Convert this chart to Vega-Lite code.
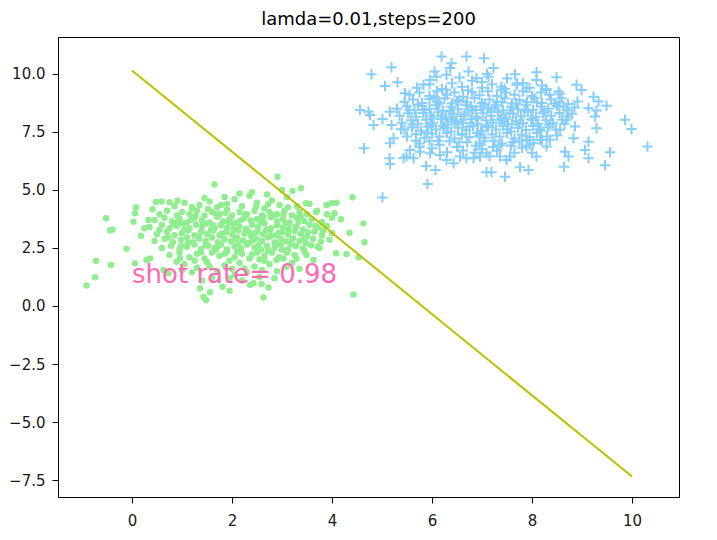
{
"$schema": "https://vega.github.io/schema/vega-lite/v6.json",
"width": 621, "height": 460,
"autosize": "none",
"padding": {"left": 58, "top": 37, "right": 38, "bottom": 43},
"title": {"text": "lamda=0.01,steps=200", "fontSize": 18, "fontWeight": "normal", "font": "DejaVu Sans", "color": "#000", "offset": 8},
"config": {
  "view": {"stroke": "#000", "strokeWidth": 1},
  "axis": {"domainColor": "#000", "tickColor": "#000", "labelColor": "#1a1a1a", "labelFont": "DejaVu Sans", "labelFontSize": 15, "tickSize": 6, "grid": false, "title": null},
  "axisX": {"labelPadding": 10},
  "axisY": {"labelPadding": 7}
},
"datasets": {
"green": [
{"x":0.85,"y":4.3},{"x":1.05,"y":4.45},{"x":1.2,"y":4.2},{"x":1.35,"y":4.35},{"x":1.55,"y":4.5},{"x":1.7,"y":4.25},{"x":1.9,"y":4.4},{"x":2.05,"y":4.6},{"x":2.2,"y":4.3},{"x":2.35,"y":4.75},{"x":2.5,"y":4.45},{"x":2.65,"y":4.2},{"x":2.8,"y":4.55},{"x":2.95,"y":4.35},{"x":3.1,"y":4.7},{"x":3.3,"y":4.3},{"x":3.55,"y":4.4},{"x":2.4,"y":4.9},{"x":2.15,"y":4.85},{"x":1.85,"y":4.7},{"x":2.7,"y":4.8},{"x":3.0,"y":5.0},{"x":1.45,"y":4.65},
{"x":0.55,"y":3.95},{"x":0.7,"y":4.1},{"x":0.9,"y":3.9},{"x":1.0,"y":4.05},{"x":1.15,"y":3.95},{"x":1.3,"y":4.1},{"x":1.45,"y":3.9},{"x":1.6,"y":4.05},{"x":1.75,"y":3.95},{"x":1.9,"y":4.15},{"x":2.0,"y":3.9},{"x":2.15,"y":4.05},{"x":2.3,"y":3.95},{"x":2.45,"y":4.1},{"x":2.6,"y":3.9},{"x":2.75,"y":4.05},{"x":2.9,"y":3.95},{"x":3.05,"y":4.1},{"x":3.2,"y":3.9},{"x":3.35,"y":4.05},{"x":3.5,"y":3.95},{"x":3.7,"y":4.1},{"x":3.9,"y":3.95},{"x":4.05,"y":4.0},
{"x":0.45,"y":3.7},{"x":0.65,"y":3.8},{"x":0.8,"y":3.65},{"x":0.95,"y":3.75},{"x":1.1,"y":3.6},{"x":1.25,"y":3.8},{"x":1.4,"y":3.7},{"x":1.55,"y":3.6},{"x":1.7,"y":3.85},{"x":1.82,"y":3.65},{"x":1.95,"y":3.75},{"x":2.1,"y":3.6},{"x":2.25,"y":3.8},{"x":2.38,"y":3.68},{"x":2.5,"y":3.75},{"x":2.62,"y":3.6},{"x":2.78,"y":3.82},{"x":2.9,"y":3.65},{"x":3.02,"y":3.75},{"x":3.15,"y":3.6},{"x":3.3,"y":3.8},{"x":3.45,"y":3.65},{"x":3.6,"y":3.75},{"x":3.8,"y":3.62},{"x":4.0,"y":3.8},
{"x":0.35,"y":3.4},{"x":0.6,"y":3.5},{"x":0.75,"y":3.35},{"x":0.9,"y":3.45},{"x":1.02,"y":3.55},{"x":1.15,"y":3.35},{"x":1.28,"y":3.5},{"x":1.4,"y":3.4},{"x":1.52,"y":3.55},{"x":1.65,"y":3.35},{"x":1.78,"y":3.48},{"x":1.9,"y":3.38},{"x":2.02,"y":3.55},{"x":2.15,"y":3.42},{"x":2.28,"y":3.32},{"x":2.4,"y":3.5},{"x":2.52,"y":3.4},{"x":2.65,"y":3.55},{"x":2.78,"y":3.35},{"x":2.9,"y":3.48},{"x":3.02,"y":3.38},{"x":3.15,"y":3.52},{"x":3.28,"y":3.4},{"x":3.42,"y":3.3},{"x":3.55,"y":3.5},{"x":3.72,"y":3.38},{"x":3.9,"y":3.45},
{"x":0.5,"y":3.1},{"x":0.7,"y":3.2},{"x":0.85,"y":3.05},{"x":1.0,"y":3.15},{"x":1.12,"y":3.25},{"x":1.25,"y":3.05},{"x":1.38,"y":3.2},{"x":1.5,"y":3.1},{"x":1.62,"y":3.25},{"x":1.75,"y":3.05},{"x":1.88,"y":3.18},{"x":2.0,"y":3.08},{"x":2.12,"y":3.25},{"x":2.25,"y":3.12},{"x":2.38,"y":3.02},{"x":2.5,"y":3.2},{"x":2.62,"y":3.1},{"x":2.75,"y":3.25},{"x":2.88,"y":3.05},{"x":3.0,"y":3.18},{"x":3.12,"y":3.08},{"x":3.25,"y":3.22},{"x":3.38,"y":3.1},{"x":3.5,"y":3.0},{"x":3.65,"y":3.2},{"x":3.8,"y":3.05},{"x":4.0,"y":3.15},
{"x":0.45,"y":2.8},{"x":0.65,"y":2.9},{"x":0.82,"y":2.75},{"x":0.98,"y":2.85},{"x":1.1,"y":2.95},{"x":1.22,"y":2.75},{"x":1.35,"y":2.9},{"x":1.48,"y":2.8},{"x":1.6,"y":2.95},{"x":1.72,"y":2.75},{"x":1.85,"y":2.88},{"x":1.98,"y":2.78},{"x":2.1,"y":2.95},{"x":2.22,"y":2.82},{"x":2.35,"y":2.72},{"x":2.48,"y":2.9},{"x":2.6,"y":2.8},{"x":2.72,"y":2.95},{"x":2.85,"y":2.75},{"x":2.98,"y":2.88},{"x":3.1,"y":2.78},{"x":3.22,"y":2.92},{"x":3.35,"y":2.8},{"x":3.48,"y":2.7},{"x":3.62,"y":2.9},{"x":3.78,"y":2.78},{"x":3.95,"y":2.85},
{"x":0.6,"y":2.5},{"x":0.78,"y":2.6},{"x":0.95,"y":2.45},{"x":1.1,"y":2.55},{"x":1.25,"y":2.65},{"x":1.38,"y":2.45},{"x":1.52,"y":2.6},{"x":1.65,"y":2.5},{"x":1.78,"y":2.65},{"x":1.9,"y":2.45},{"x":2.05,"y":2.58},{"x":2.18,"y":2.48},{"x":2.3,"y":2.65},{"x":2.45,"y":2.52},{"x":2.58,"y":2.42},{"x":2.7,"y":2.6},{"x":2.85,"y":2.5},{"x":2.98,"y":2.65},{"x":3.12,"y":2.45},{"x":3.28,"y":2.58},{"x":3.42,"y":2.48},{"x":3.58,"y":2.62},{"x":3.75,"y":2.5},
{"x":0.75,"y":2.2},{"x":0.95,"y":2.3},{"x":1.15,"y":2.1},{"x":1.3,"y":2.25},{"x":1.45,"y":2.05},{"x":1.6,"y":2.3},{"x":1.75,"y":2.15},{"x":1.9,"y":2.35},{"x":2.05,"y":2.1},{"x":2.2,"y":2.25},{"x":2.35,"y":2.05},{"x":2.5,"y":2.3},{"x":2.65,"y":2.15},{"x":2.8,"y":2.3},{"x":2.95,"y":2.1},{"x":3.1,"y":2.3},{"x":3.25,"y":2.2},
{"x":1.05,"y":1.8},{"x":1.3,"y":1.65},{"x":1.5,"y":1.9},{"x":1.7,"y":1.5},{"x":1.85,"y":1.75},{"x":2.0,"y":1.6},{"x":2.15,"y":1.85},{"x":2.3,"y":1.45},{"x":2.45,"y":1.7},{"x":2.6,"y":1.55},{"x":2.75,"y":1.8},{"x":2.9,"y":1.5},{"x":1.2,"y":1.45},{"x":2.55,"y":1.25},{"x":1.95,"y":1.2},{"x":2.2,"y":1.1},{"x":1.6,"y":1.2},{"x":2.85,"y":1.2},{"x":3.35,"y":1.6},{"x":1.4,"y":1.1},
{"x":1.05,"y":3.3},{"x":1.18,"y":3.72},{"x":1.33,"y":2.98},{"x":1.42,"y":3.58},{"x":1.58,"y":3.28},{"x":1.68,"y":3.95},{"x":1.8,"y":3.12},{"x":1.93,"y":3.62},{"x":2.07,"y":2.92},{"x":2.18,"y":3.7},{"x":2.32,"y":3.22},{"x":2.43,"y":2.85},{"x":2.57,"y":3.62},{"x":2.68,"y":3.28},{"x":2.82,"y":3.92},{"x":2.93,"y":3.15},{"x":3.07,"y":3.58},{"x":3.18,"y":2.68},{"x":3.33,"y":3.62},{"x":3.45,"y":2.9},{"x":1.12,"y":2.72},{"x":1.27,"y":3.88},{"x":1.47,"y":2.62},{"x":1.63,"y":3.48},{"x":1.72,"y":2.58},{"x":1.87,"y":4.02},{"x":2.03,"y":3.32},{"x":2.13,"y":2.68},{"x":2.27,"y":3.95},{"x":2.42,"y":3.12},{"x":2.53,"y":2.62},{"x":2.63,"y":3.85},{"x":2.77,"y":3.02},{"x":2.87,"y":2.62},{"x":3.03,"y":3.95},{"x":3.13,"y":3.3},{"x":3.27,"y":2.58},{"x":3.38,"y":3.85},{"x":3.52,"y":3.18},{"x":3.67,"y":3.45},{"x":0.92,"y":3.62},{"x":0.98,"y":2.58},{"x":1.2,"y":4.25},{"x":1.52,"y":4.18},{"x":1.78,"y":4.35},{"x":2.48,"y":4.28},{"x":2.72,"y":4.38},{"x":3.12,"y":4.25},{"x":1.38,"y":2.32},{"x":1.68,"y":2.42},{"x":2.1,"y":2.35},{"x":2.4,"y":2.22},{"x":2.72,"y":2.38},{"x":3.0,"y":2.42},{"x":1.55,"y":1.72},{"x":2.25,"y":1.62},{"x":2.65,"y":1.95},{"x":1.95,"y":1.95},{"x":3.45,"y":2.35},{"x":3.82,"y":3.25},{"x":0.72,"y":2.95},{"x":0.82,"y":3.52},{"x":0.55,"y":3.28},{"x":3.68,"y":4.05},{"x":1.85,"y":2.25},{"x":2.55,"y":2.0},{"x":1.25,"y":1.95},{"x":3.2,"y":1.85},{"x":1.0,"y":1.55},{"x":2.05,"y":1.35},
{"x":-0.91,"y":0.88},{"x":-0.74,"y":1.24},{"x":-0.72,"y":1.95},{"x":-0.42,"y":1.77},{"x":-0.52,"y":3.78},{"x":-0.39,"y":3.3},{"x":-0.44,"y":3.25},{"x":-0.11,"y":2.47},{"x":0.03,"y":3.63},{"x":0.06,"y":4.0},{"x":0.08,"y":4.25},{"x":0.18,"y":3.03},{"x":0.25,"y":3.35},{"x":0.06,"y":1.84},{"x":0.33,"y":3.71},{"x":0.41,"y":4.17},{"x":0.48,"y":4.48},{"x":0.59,"y":4.5},{"x":0.75,"y":4.47},{"x":0.91,"y":4.53},{"x":1.65,"y":5.24},{"x":2.91,"y":5.57},{"x":3.38,"y":5.07},{"x":3.21,"y":4.96},{"x":3.48,"y":4.43},{"x":3.89,"y":4.35},{"x":3.99,"y":4.43},{"x":4.09,"y":4.45},{"x":4.41,"y":4.69},{"x":4.63,"y":3.56},{"x":4.65,"y":2.75},{"x":4.35,"y":3.16},{"x":4.18,"y":3.74},{"x":4.29,"y":2.24},{"x":4.53,"y":2.1},{"x":4.43,"y":0.5},{"x":2.63,"y":0.37},{"x":1.43,"y":0.4},{"x":1.48,"y":0.26},{"x":1.36,"y":0.76},{"x":1.56,"y":0.59},{"x":1.95,"y":0.66},{"x":2.73,"y":0.8},{"x":2.59,"y":0.95},{"x":2.36,"y":0.91},{"x":2.43,"y":0.98},{"x":1.81,"y":0.83},{"x":3.71,"y":2.56},{"x":3.63,"y":1.98},{"x":3.49,"y":2.2},{"x":3.29,"y":2.05},{"x":4.08,"y":2.27},{"x":2.89,"y":1.98},{"x":3.03,"y":2.05},{"x":3.09,"y":1.69},{"x":0.29,"y":1.98},{"x":0.36,"y":2.05},{"x":0.89,"y":1.91},{"x":0.96,"y":2.05},{"x":0.63,"y":1.55},{"x":0.73,"y":1.41}
],
"blue": [
{"x":5.7,"y":9.4},{"x":5.95,"y":9.55},{"x":6.2,"y":9.35},{"x":6.4,"y":9.6},{"x":6.6,"y":9.45},{"x":6.8,"y":9.7},{"x":7.0,"y":9.4},{"x":7.2,"y":9.55},{"x":7.45,"y":9.35},{"x":7.7,"y":9.6},{"x":7.95,"y":9.4},{"x":8.2,"y":9.5},{"x":6.55,"y":9.85},{"x":7.1,"y":10.0},{"x":6.05,"y":10.1},{"x":7.5,"y":9.8},
{"x":5.55,"y":9.1},{"x":5.75,"y":9.2},{"x":5.95,"y":9.05},{"x":6.1,"y":9.25},{"x":6.3,"y":9.1},{"x":6.45,"y":9.2},{"x":6.62,"y":9.02},{"x":6.8,"y":9.22},{"x":6.95,"y":9.08},{"x":7.12,"y":9.25},{"x":7.3,"y":9.05},{"x":7.48,"y":9.2},{"x":7.65,"y":9.1},{"x":7.82,"y":9.25},{"x":8.0,"y":9.05},{"x":8.18,"y":9.2},{"x":8.35,"y":9.1},{"x":8.55,"y":9.15},
{"x":5.45,"y":8.8},{"x":5.62,"y":8.9},{"x":5.8,"y":8.75},{"x":5.95,"y":8.92},{"x":6.1,"y":8.8},{"x":6.25,"y":8.95},{"x":6.4,"y":8.72},{"x":6.55,"y":8.88},{"x":6.7,"y":8.78},{"x":6.85,"y":8.95},{"x":7.0,"y":8.75},{"x":7.15,"y":8.9},{"x":7.3,"y":8.8},{"x":7.45,"y":8.95},{"x":7.6,"y":8.72},{"x":7.75,"y":8.88},{"x":7.9,"y":8.78},{"x":8.05,"y":8.95},{"x":8.2,"y":8.75},{"x":8.38,"y":8.9},{"x":8.55,"y":8.8},{"x":8.72,"y":8.7},
{"x":5.3,"y":8.5},{"x":5.5,"y":8.6},{"x":5.65,"y":8.45},{"x":5.8,"y":8.62},{"x":5.95,"y":8.5},{"x":6.08,"y":8.65},{"x":6.22,"y":8.42},{"x":6.38,"y":8.58},{"x":6.52,"y":8.48},{"x":6.68,"y":8.65},{"x":6.82,"y":8.45},{"x":6.98,"y":8.6},{"x":7.12,"y":8.5},{"x":7.28,"y":8.65},{"x":7.42,"y":8.42},{"x":7.58,"y":8.58},{"x":7.72,"y":8.48},{"x":7.88,"y":8.65},{"x":8.02,"y":8.45},{"x":8.18,"y":8.6},{"x":8.32,"y":8.5},{"x":8.5,"y":8.62},{"x":8.7,"y":8.45},{"x":8.85,"y":8.55},
{"x":5.35,"y":8.2},{"x":5.52,"y":8.3},{"x":5.68,"y":8.15},{"x":5.82,"y":8.32},{"x":5.98,"y":8.2},{"x":6.12,"y":8.35},{"x":6.28,"y":8.12},{"x":6.42,"y":8.28},{"x":6.58,"y":8.18},{"x":6.72,"y":8.35},{"x":6.88,"y":8.15},{"x":7.02,"y":8.3},{"x":7.18,"y":8.2},{"x":7.32,"y":8.35},{"x":7.48,"y":8.12},{"x":7.62,"y":8.28},{"x":7.78,"y":8.18},{"x":7.92,"y":8.35},{"x":8.08,"y":8.15},{"x":8.22,"y":8.3},{"x":8.38,"y":8.2},{"x":8.55,"y":8.32},{"x":8.72,"y":8.18},
{"x":5.4,"y":7.9},{"x":5.58,"y":8.0},{"x":5.72,"y":7.85},{"x":5.88,"y":8.02},{"x":6.02,"y":7.9},{"x":6.18,"y":8.05},{"x":6.32,"y":7.82},{"x":6.48,"y":7.98},{"x":6.62,"y":7.88},{"x":6.78,"y":8.05},{"x":6.92,"y":7.85},{"x":7.08,"y":8.0},{"x":7.22,"y":7.9},{"x":7.38,"y":8.05},{"x":7.52,"y":7.82},{"x":7.68,"y":7.98},{"x":7.82,"y":7.88},{"x":7.98,"y":8.05},{"x":8.12,"y":7.85},{"x":8.28,"y":8.0},{"x":8.42,"y":7.9},{"x":8.6,"y":8.02},
{"x":5.45,"y":7.6},{"x":5.6,"y":7.7},{"x":5.78,"y":7.55},{"x":5.92,"y":7.72},{"x":6.08,"y":7.6},{"x":6.22,"y":7.75},{"x":6.38,"y":7.52},{"x":6.52,"y":7.68},{"x":6.68,"y":7.58},{"x":6.82,"y":7.75},{"x":6.98,"y":7.55},{"x":7.12,"y":7.7},{"x":7.28,"y":7.6},{"x":7.42,"y":7.75},{"x":7.58,"y":7.52},{"x":7.72,"y":7.68},{"x":7.88,"y":7.58},{"x":8.02,"y":7.75},{"x":8.18,"y":7.55},{"x":8.32,"y":7.7},{"x":8.48,"y":7.6},
{"x":5.5,"y":7.3},{"x":5.68,"y":7.4},{"x":5.85,"y":7.25},{"x":6.0,"y":7.42},{"x":6.15,"y":7.3},{"x":6.3,"y":7.45},{"x":6.45,"y":7.22},{"x":6.6,"y":7.38},{"x":6.75,"y":7.28},{"x":6.9,"y":7.45},{"x":7.05,"y":7.25},{"x":7.2,"y":7.4},{"x":7.35,"y":7.3},{"x":7.5,"y":7.45},{"x":7.65,"y":7.22},{"x":7.8,"y":7.38},{"x":7.95,"y":7.28},{"x":8.1,"y":7.45},{"x":8.3,"y":7.3},
{"x":5.75,"y":7.0},{"x":5.95,"y":7.1},{"x":6.15,"y":6.95},{"x":6.35,"y":7.1},{"x":6.5,"y":6.85},{"x":6.7,"y":7.05},{"x":6.88,"y":6.9},{"x":7.05,"y":7.1},{"x":7.22,"y":6.85},{"x":7.4,"y":7.0},{"x":7.58,"y":6.9},{"x":7.75,"y":7.1},{"x":7.95,"y":6.95},{"x":6.62,"y":6.7},{"x":7.0,"y":6.75},{"x":7.3,"y":6.7},{"x":6.0,"y":6.8},
{"x":5.85,"y":8.45},{"x":6.02,"y":8.08},{"x":6.15,"y":8.72},{"x":6.25,"y":7.68},{"x":6.35,"y":8.38},{"x":6.45,"y":7.95},{"x":6.5,"y":8.82},{"x":6.6,"y":7.42},{"x":6.65,"y":8.25},{"x":6.75,"y":7.72},{"x":6.78,"y":8.58},{"x":6.9,"y":8.08},{"x":6.95,"y":7.35},{"x":7.05,"y":8.68},{"x":7.1,"y":7.78},{"x":7.18,"y":8.38},{"x":7.25,"y":7.12},{"x":7.35,"y":8.02},{"x":7.4,"y":8.78},{"x":7.5,"y":7.62},{"x":7.55,"y":8.3},{"x":7.62,"y":7.05},{"x":7.68,"y":8.72},{"x":7.75,"y":7.85},{"x":7.85,"y":8.42},{"x":7.9,"y":7.15},{"x":8.0,"y":8.02},{"x":8.1,"y":8.78},{"x":8.15,"y":7.62},{"x":8.25,"y":8.38},{"x":8.35,"y":7.82},{"x":8.45,"y":8.72},{"x":5.62,"y":7.82},{"x":5.72,"y":8.68},{"x":5.9,"y":7.45},{"x":6.05,"y":9.0},{"x":6.28,"y":9.32},{"x":6.72,"y":9.3},{"x":7.0,"y":9.65},{"x":7.38,"y":9.32},{"x":7.82,"y":9.6},{"x":8.28,"y":9.35},{"x":5.68,"y":7.12},{"x":6.12,"y":7.12},{"x":6.55,"y":7.05},{"x":6.95,"y":7.0},{"x":7.35,"y":6.92},{"x":7.8,"y":6.82},{"x":8.2,"y":7.15},{"x":8.5,"y":7.35},{"x":8.65,"y":7.85},{"x":8.8,"y":8.28},{"x":5.55,"y":8.45},{"x":5.38,"y":7.62},{"x":6.3,"y":6.62},{"x":6.85,"y":6.6},{"x":7.15,"y":6.45},{"x":7.65,"y":6.6},{"x":8.0,"y":6.6},{"x":5.75,"y":6.85},{"x":6.58,"y":8.0},{"x":6.88,"y":8.45},{"x":7.25,"y":8.55},{"x":7.45,"y":8.05},{"x":6.4,"y":8.05},{"x":7.0,"y":7.55},{"x":7.6,"y":7.85},{"x":6.2,"y":8.2},{"x":5.98,"y":7.78},
{"x":6.19,"y":10.75},{"x":6.69,"y":10.75},{"x":7.04,"y":10.67},{"x":5.19,"y":10.29},{"x":4.79,"y":9.99},{"x":6.39,"y":10.46},{"x":6.36,"y":10.25},{"x":7.23,"y":10.25},{"x":7.66,"y":9.99},{"x":8.09,"y":10.07},{"x":8.09,"y":9.74},{"x":8.49,"y":9.86},{"x":5.06,"y":9.48},{"x":5.31,"y":9.64},{"x":8.89,"y":9.53},{"x":8.99,"y":9.31},{"x":9.23,"y":9.02},{"x":9.33,"y":8.81},{"x":9.49,"y":8.63},{"x":9.13,"y":8.52},{"x":9.29,"y":8.42},{"x":9.26,"y":8.16},{"x":8.91,"y":8.81},{"x":9.86,"y":8.02},{"x":9.99,"y":7.63},{"x":10.31,"y":6.87},{"x":9.56,"y":6.62},{"x":9.46,"y":6.06},{"x":9.13,"y":6.37},{"x":9.06,"y":6.72},{"x":9.13,"y":7.08},{"x":9.29,"y":7.66},{"x":8.64,"y":6.0},{"x":8.73,"y":6.44},{"x":8.66,"y":6.65},{"x":8.83,"y":7.23},{"x":8.86,"y":7.73},{"x":8.09,"y":6.44},{"x":7.93,"y":5.86},{"x":7.76,"y":5.98},{"x":7.46,"y":5.57},{"x":7.09,"y":5.76},{"x":7.19,"y":5.76},{"x":5.91,"y":5.26},{"x":5.88,"y":6.03},{"x":6.07,"y":5.86},{"x":5.15,"y":6.37},{"x":5.16,"y":6.12},{"x":4.64,"y":6.8},{"x":5.01,"y":4.67},{"x":4.56,"y":8.45},{"x":4.73,"y":8.37},{"x":4.76,"y":8.23},{"x":5.01,"y":8.06},{"x":4.83,"y":7.8},{"x":5.16,"y":8.37},{"x":5.19,"y":7.8},{"x":5.46,"y":9.17},{"x":5.49,"y":6.44},{"x":5.63,"y":6.37},{"x":5.43,"y":6.37},{"x":5.16,"y":7.01},{"x":5.23,"y":7.23},{"x":5.83,"y":9.53},{"x":5.96,"y":9.74},{"x":6.09,"y":9.88},{"x":6.29,"y":9.96},{"x":6.73,"y":10.1},{"x":6.89,"y":9.81},{"x":7.13,"y":9.88},{"x":7.39,"y":9.45},{"x":7.69,"y":9.53},{"x":7.89,"y":9.38},{"x":8.29,"y":9.31},{"x":8.53,"y":9.24},{"x":8.59,"y":8.95},{"x":8.63,"y":8.59},{"x":8.69,"y":8.02},{"x":8.56,"y":7.59},{"x":8.36,"y":7.16},{"x":8.29,"y":6.87},{"x":7.49,"y":6.29},{"x":7.56,"y":6.44},{"x":7.36,"y":6.44},{"x":7.09,"y":6.58},{"x":6.96,"y":6.44},{"x":6.83,"y":6.37},{"x":6.69,"y":6.37},{"x":6.56,"y":6.44},{"x":6.43,"y":6.15},{"x":6.29,"y":6.29},{"x":6.16,"y":6.51},{"x":5.96,"y":6.58},{"x":5.76,"y":6.65},{"x":5.56,"y":6.72},{"x":7.89,"y":6.87},{"x":8.03,"y":7.01},{"x":8.16,"y":7.16}
],
"line": [{"x":0,"y":10.15},{"x":10,"y":-7.35}],
"label": [{"x":0,"y":1.0,"t":"shot rate= 0.98"}]
},
"encoding": {
  "x": {"field": "x", "type": "quantitative", "scale": {"domain": [-1.48, 10.94], "nice": false, "zero": false}, "axis": {"values": [0,2,4,6,8,10]}},
  "y": {"field": "y", "type": "quantitative", "scale": {"domain": [-8.23, 11.59], "nice": false, "zero": false}, "axis": {"values": [-7.5,-5,-2.5,0,2.5,5,7.5,10], "format": ".1f"}}
},
"layer": [
  {"data": {"name": "green"}, "mark": {"type": "circle", "size": 42, "color": "#90ee90", "opacity": 1}},
  {"data": {"name": "blue"}, "mark": {"type": "point", "shape": "M-1,0L1,0M0,-1L0,1", "size": 110, "filled": false, "stroke": "#87cefa", "strokeWidth": 2, "opacity": 1}},
  {"data": {"name": "line"}, "mark": {"type": "line", "color": "#bfbf00", "strokeWidth": 2}},
  {"data": {"name": "label"}, "mark": {"type": "text", "align": "left", "baseline": "alphabetic", "fontSize": 26, "font": "DejaVu Sans", "color": "#ff69b4"}, "encoding": {"text": {"field": "t"}}}
]
}
